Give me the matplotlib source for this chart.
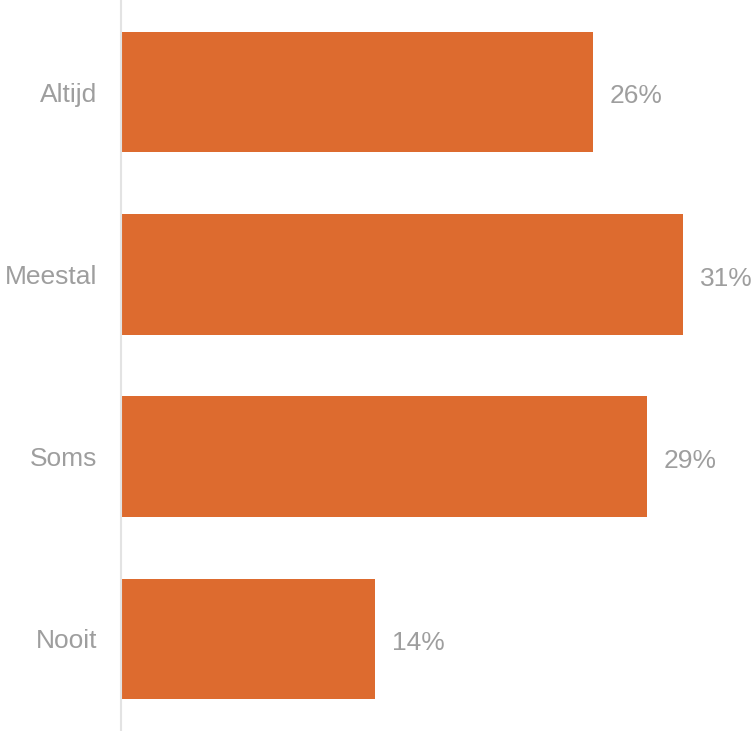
import matplotlib.pyplot as plt

# Data
categories = ['Altijd', 'Meestal', 'Soms', 'Nooit']
values = [26, 31, 29, 14]

bar_color = '#DD6B2F'
text_color = '#9E9E9E'

plt.rcParams['font.family'] = ['Liberation Sans', 'DejaVu Sans']

fig = plt.figure(figsize=(7.56, 7.31), dpi=100)
ax = fig.add_axes([121 / 756, 0, (756 - 121) / 756, 1])

positions = list(range(len(categories)))
ax.barh(positions, values, height=0.66, color=bar_color)

# Value labels next to bars
for pos, val in zip(positions, values):
    ax.text(val + 0.93, pos + 0.01, f'{val}%', va='center_baseline', ha='left',
            fontsize=19, color=text_color)

ax.set_xlim(0, 35)
ax.set_ylim(3.505, -0.505)
ax.set_yticks(positions)
ax.set_yticklabels(categories, fontsize=19, color=text_color)
ax.tick_params(axis='y', length=0, pad=17)
ax.set_xticks([])

for side in ['top', 'right', 'bottom']:
    ax.spines[side].set_visible(False)
ax.spines['left'].set_color('#E3E3E3')
ax.spines['left'].set_linewidth(1.5)

fig.savefig('out.png', dpi=100)
